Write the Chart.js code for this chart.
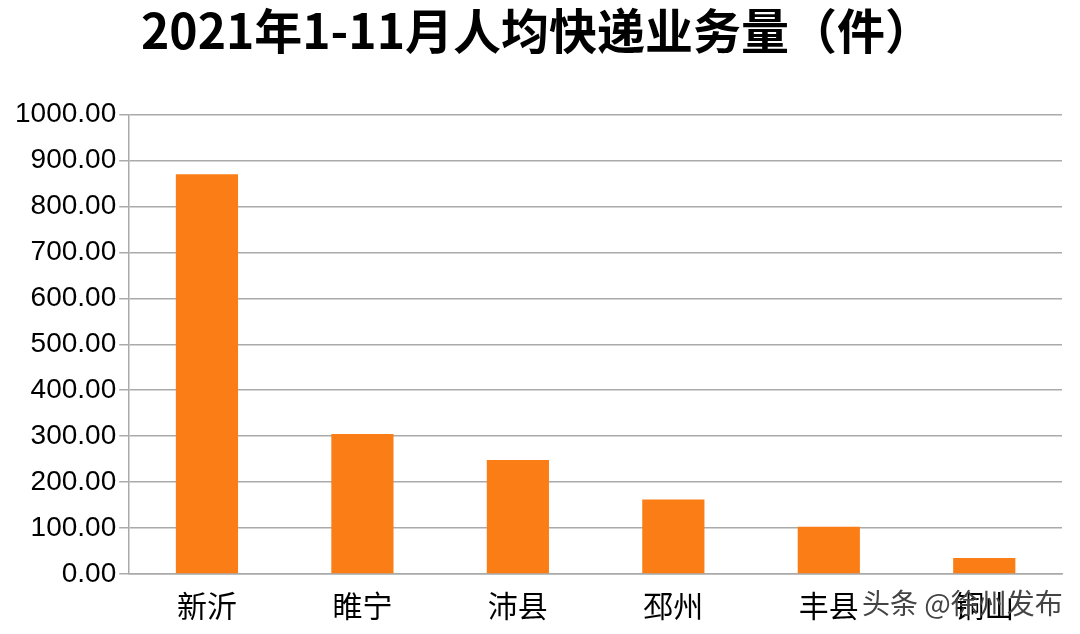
<!DOCTYPE html>
<html><head><meta charset="utf-8">
<script src="https://cdn.jsdelivr.net/npm/chart.js@4"></script>
<style>body{margin:0;background:#fff}#wrap{width:1080px;height:634px;position:relative}</style>
</head><body><div id="wrap"><canvas id="c" width="1080" height="634"></canvas></div>
<script>
const categories = ['新沂', '睢宁', '沛县', '邳州', '丰县', '铜山'];
const values = [870, 305, 248, 162, 103, 35];
const yTicks = [0, 100, 200, 300, 400, 500, 600, 700, 800, 900, 1000];

const watermark = {
    id: 'watermark',
    afterDraw(chart) {
        const ctx = chart.ctx;
        ctx.save();
        ctx.font = '28px "Noto Sans CJK SC"';
        ctx.fillStyle = '#444';
        ctx.textBaseline = 'middle';
        ctx.fillText('头条 @徐州发布', 862, 603);
        ctx.restore();
    }
};

new Chart(document.getElementById('c'), {
    type: 'bar',
    data: {
        labels: categories,
        datasets: [{ data: values, backgroundColor: '#fb7d16', barPercentage: 0.4, categoryPercentage: 1 }]
    },
    options: {
        responsive: false,
        animation: false,
        layout: { padding: { left: 12, right: 18, top: 0, bottom: 4 } },
        plugins: {
            legend: { display: false },
            tooltip: { enabled: false },
            title: {
                display: true,
                text: '2021年1-11月人均快递业务量（件）',
                color: '#000',
                font: { family: '"Noto Sans CJK SC"', size: 48, weight: 'bold' },
                padding: { top: 2, bottom: 55 }
            }
        },
        scales: {
            y: {
                min: 0, max: 1000,
                afterBuildTicks: a => { a.ticks = yTicks.map(v => ({ value: v })); },
                grid: { color: '#aaa', lineWidth: 1.5, tickLength: 10 },
                border: { color: '#aaa', width: 1.5 },
                ticks: { color: '#000', font: { family: 'Liberation Sans', size: 28 }, callback: v => v.toFixed(2) }
            },
            x: {
                grid: { display: false },
                border: { color: '#aaa', width: 1.5 },
                ticks: { color: '#000', font: { family: '"Noto Sans CJK SC"', size: 30 }, padding: 6 }
            }
        }
    },
    plugins: [watermark]
});
</script></body></html>
